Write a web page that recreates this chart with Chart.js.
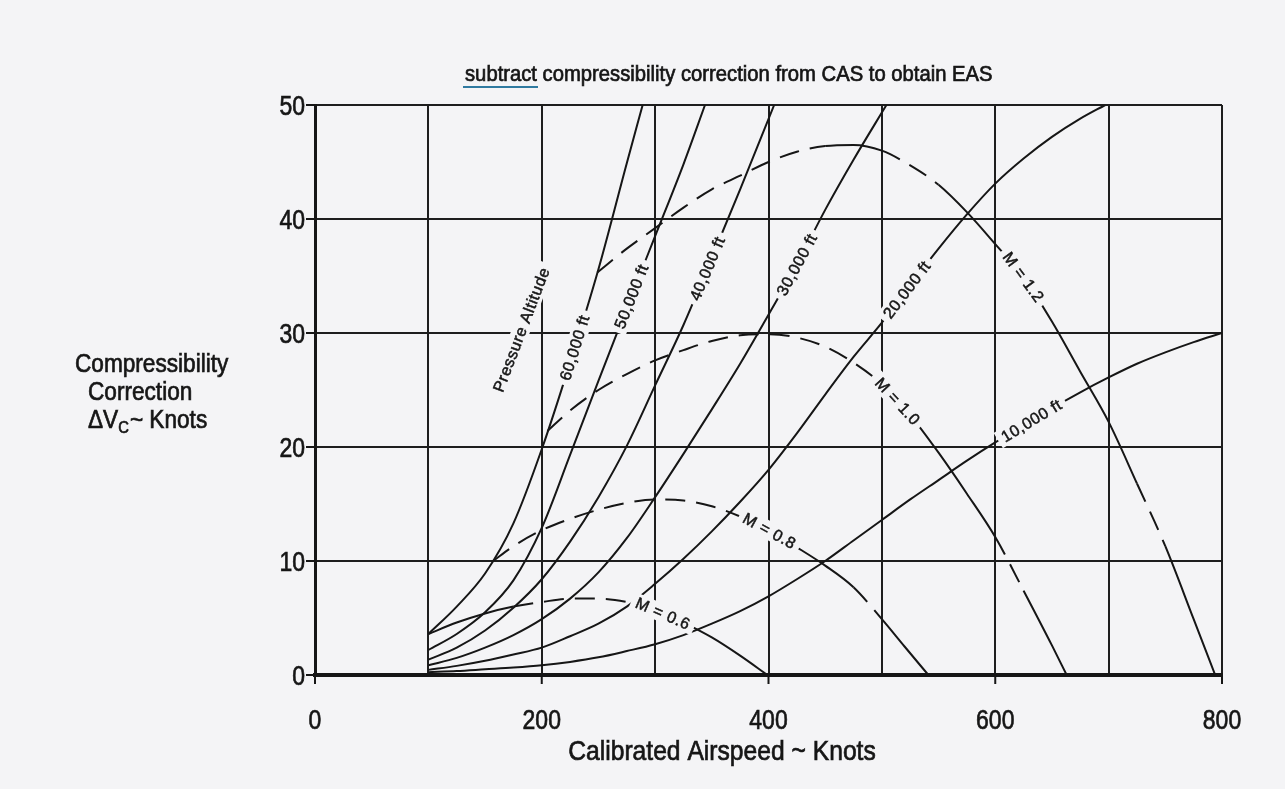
<!DOCTYPE html>
<html>
<head>
<meta charset="utf-8">
<title>Compressibility correction</title>
<script src="https://cdn.jsdelivr.net/npm/chart.js@4.4.1/dist/chart.umd.min.js"></script>
<style>
  html, body { margin: 0; padding: 0; background: #f4f4f6; overflow: hidden; }
  canvas { display: block; }
</style>
</head>
<body>
<canvas id="chart" width="1285" height="789"></canvas>
<script>
// calibrated airspeed (knots) and compressibility correction (knots)
var alt60kSpeed = [100, 125, 150, 175, 200, 225, 250, 275, 289];
var alt60kCorr = [3.6, 6.0, 8.9, 13.3, 19.8, 27.4, 35.6, 44.9, 50];

var alt50kSpeed = [100, 125, 150, 175, 200, 225, 250, 275, 300, 325, 344];
var alt50kCorr = [2.2, 3.6, 5.5, 8.3, 12.9, 19.3, 25.8, 32.2, 38.5, 44.8, 50];

var alt40kSpeed = [100, 125, 150, 175, 200, 225, 250, 275, 300, 325, 350, 375, 405];
var alt40kCorr = [1.35, 2.4, 3.9, 5.9, 8.4, 11.7, 15.6, 20.1, 25.4, 30.7, 36.6, 42.6, 50];

var alt30kSpeed = [100, 125, 150, 175, 200, 225, 250, 275, 300, 325, 350, 375, 400, 425, 450, 475, 504];
var alt30kCorr = [0.85, 1.5, 2.4, 3.5, 4.9, 6.7, 9.0, 12.0, 15.6, 19.4, 23.3, 27.3, 31.6, 36.0, 40.8, 45.2, 50];

var alt20kSpeed = [100, 125, 150, 175, 200, 225, 250, 275, 300, 325, 350, 375, 400, 425, 450, 475, 500, 525, 550, 575, 600, 625, 650, 675, 697];
var alt20kCorr = [0.45, 0.8, 1.25, 1.8, 2.4, 3.4, 4.5, 6.0, 8.0, 10.2, 12.6, 15.2, 18.0, 21.2, 24.6, 27.9, 30.9, 34.2, 37.4, 40.4, 43.1, 45.3, 47.2, 48.8, 50];

var alt10kSpeed = [100, 125, 150, 175, 200, 225, 250, 275, 300, 325, 350, 375, 400, 425, 450, 475, 500, 525, 550, 575, 600, 625, 650, 675, 700, 725, 750, 775, 800];
var alt10kCorr = [0.25, 0.35, 0.5, 0.65, 0.85, 1.15, 1.55, 2.1, 2.7, 3.5, 4.5, 5.6, 6.9, 8.4, 10.0, 11.8, 13.6, 15.4, 17.1, 18.8, 20.4, 21.9, 23.4, 24.8, 26.1, 27.3, 28.3, 29.2, 30.0];

var mach06Speed = [100, 125, 150, 175, 200, 225, 250, 275, 300, 325, 350, 375, 399];
var mach06Corr = [3.6, 4.6, 5.4, 6.0, 6.4, 6.7, 6.7, 6.4, 5.7, 4.6, 3.3, 1.7, 0];

var mach08Speed = [157, 175, 200, 225, 250, 275, 300, 325, 350, 375, 400, 425, 450, 475, 500, 520, 541];
var mach08Corr = [10, 11.3, 12.7, 13.7, 14.5, 15.1, 15.4, 15.3, 14.8, 13.9, 12.7, 11.2, 9.6, 7.7, 4.9, 2.5, 0];

var mach10Speed = [205, 225, 250, 275, 300, 325, 350, 375, 400, 425, 450, 475, 500, 525, 550, 575, 600, 625, 650, 663];
var mach10Corr = [21.4, 23.2, 25.0, 26.4, 27.6, 28.5, 29.3, 29.8, 29.9, 29.6, 28.8, 27.4, 25.5, 22.8, 19.5, 15.9, 12.1, 7.4, 2.6, 0];

var mach12Speed = [249, 275, 300, 325, 350, 375, 400, 425, 450, 475, 500, 525, 550, 575, 600, 625, 650, 675, 700, 725, 750, 775, 794];
var mach12Corr = [35.3, 37.4, 39.2, 41.0, 42.6, 43.8, 45.0, 45.9, 46.4, 46.5, 46.0, 44.7, 43.0, 40.6, 37.8, 34.9, 31.0, 26.6, 22.2, 16.8, 11.3, 4.9, 0];

var xTickLabels = [0, 200, 400, 600, 800];
var yTickLabels = [0, 10, 20, 30, 40, 50];

var PAPER = '#f4f4f6';
var INK = '#161616';
var FONT = '"Liberation Sans", Arial, sans-serif';

// curves: speed/correction arrays, dashed speed ranges, label text and where it sits
var curves = [
  { speed: alt60kSpeed, corr: alt60kCorr, dashed: [], label: '60,000 ft', at: 229 },
  { speed: alt50kSpeed, corr: alt50kCorr, dashed: [], label: '50,000 ft', at: 279 },
  { speed: alt40kSpeed, corr: alt40kCorr, dashed: [], label: '40,000 ft', at: 346 },
  { speed: alt30kSpeed, corr: alt30kCorr, dashed: [], label: '30,000 ft', at: 425 },
  { speed: alt20kSpeed, corr: alt20kCorr, dashed: [], label: '20,000 ft', at: 522 },
  { speed: alt10kSpeed, corr: alt10kCorr, dashed: [], label: '10,000 ft', at: 632 },
  { speed: mach06Speed, corr: mach06Corr, dashed: [[175, 290]], label: 'M = 0.6', at: 307 },
  { speed: mach08Speed, corr: mach08Corr, dashed: [[157, 370], [485, 503]], label: 'M = 0.8', at: 401 },
  { speed: mach10Speed, corr: mach10Corr, dashed: [[205, 495], [608, 624]], label: 'M = 1.0', at: 514 },
  { speed: mach12Speed, corr: mach12Corr, dashed: [[249, 455], [505, 542], [735, 757]], label: 'M = 1.2', at: 625 }
];

function toPoints(xs, ys) {
  var pts = [];
  for (var i = 0; i < xs.length; i++) {
    pts.push({ x: xs[i], y: ys[i] });
  }
  return pts;
}

function dashFor(ranges) {
  return function (ctx) {
    var mid = (ctx.p0.parsed.x + ctx.p1.parsed.x) / 2;
    for (var i = 0; i < ranges.length; i++) {
      if (mid >= ranges[i][0] && mid <= ranges[i][1]) return [20, 11];
    }
    return undefined;
  };
}

function interp(xs, ys, x) {
  for (var i = 1; i < xs.length; i++) {
    if (x <= xs[i]) {
      var t = (x - xs[i - 1]) / (xs[i] - xs[i - 1]);
      return ys[i - 1] + t * (ys[i] - ys[i - 1]);
    }
  }
  return ys[ys.length - 1];
}

// condensed, slightly heavy text like the printed typeface
function drawText(ctx, str, x, y, size, squeeze, align) {
  ctx.save();
  ctx.translate(x, y);
  ctx.scale(squeeze, 1);
  ctx.font = size + 'px ' + FONT;
  ctx.fillStyle = INK;
  ctx.strokeStyle = INK;
  ctx.lineWidth = 0.7;
  ctx.textAlign = align;
  ctx.textBaseline = 'alphabetic';
  ctx.fillText(str, 0, 0);
  ctx.strokeText(str, 0, 0);
  var w = ctx.measureText(str).width * squeeze;
  ctx.restore();
  return w;
}

function drawTag(ctx, str, x, y, angle) {
  ctx.save();
  ctx.translate(x, y);
  ctx.rotate(angle);
  ctx.font = '16px ' + FONT;
  ctx.letterSpacing = '0.6px';
  var w = ctx.measureText(str).width;
  ctx.fillStyle = PAPER;
  ctx.fillRect(-w / 2 - 5, -9, w + 10, 18);
  ctx.fillStyle = INK;
  ctx.strokeStyle = INK;
  ctx.lineWidth = 0.5;
  ctx.textAlign = 'center';
  ctx.textBaseline = 'middle';
  ctx.fillText(str, 0, 1);
  ctx.strokeText(str, 0, 1);
  ctx.restore();
}

var paperPlugin = {
  id: 'paper',
  beforeDraw: function (chart) {
    var ctx = chart.ctx;
    ctx.save();
    ctx.fillStyle = PAPER;
    ctx.fillRect(0, 0, chart.width, chart.height);
    ctx.restore();
  },
  afterDatasetsDraw: function (chart) {
    var ctx = chart.ctx;
    var xs = chart.scales.x;
    var ys = chart.scales.y;

    // curve labels, set along each curve
    for (var i = 0; i < curves.length; i++) {
      var c = curves[i];
      var x0 = xs.getPixelForValue(c.at - 8);
      var y0 = ys.getPixelForValue(interp(c.speed, c.corr, c.at - 8));
      var x1 = xs.getPixelForValue(c.at + 8);
      var y1 = ys.getPixelForValue(interp(c.speed, c.corr, c.at + 8));
      var px = xs.getPixelForValue(c.at);
      var py = ys.getPixelForValue(interp(c.speed, c.corr, c.at));
      drawTag(ctx, c.label, px, py, Math.atan2(y1 - y0, x1 - x0));
    }

    drawTag(ctx, 'Pressure Altitude', xs.getPixelForValue(182), ys.getPixelForValue(30.3), -69 * Math.PI / 180);
  },
  afterDraw: function (chart) {
    var ctx = chart.ctx;
    var xs = chart.scales.x;
    var ys = chart.scales.y;
    var area = chart.chartArea;
    var i, p;

    ctx.save();
    ctx.strokeStyle = INK;
    ctx.lineWidth = 2;
    for (i = 0; i < yTickLabels.length; i++) {
      p = ys.getPixelForValue(yTickLabels[i]);
      ctx.beginPath();
      ctx.moveTo(area.left - 9, p);
      ctx.lineTo(area.left, p);
      ctx.stroke();
      drawText(ctx, String(yTickLabels[i]), area.left - 10, p + 10, 28, 0.82, 'right');
    }
    for (i = 0; i < xTickLabels.length; i++) {
      p = xs.getPixelForValue(xTickLabels[i]);
      ctx.beginPath();
      ctx.moveTo(p, area.bottom);
      ctx.lineTo(p, area.bottom + 9);
      ctx.stroke();
      drawText(ctx, String(xTickLabels[i]), p, 729, 28, 0.82, 'center');
    }
    ctx.restore();

    // axis titles
    drawText(ctx, 'Calibrated Airspeed ~ Knots', 722, 760, 28, 0.88, 'center');
    drawText(ctx, 'Compressibility', 75, 372, 26, 0.87, 'left');
    drawText(ctx, 'Correction', 88, 400, 26, 0.87, 'left');
    var w = drawText(ctx, '\u0394V', 88, 428, 26, 0.87, 'left');
    w += drawText(ctx, 'C', 88 + w, 433, 17, 0.87, 'left');
    drawText(ctx, '~ Knots', 88 + w + 1, 428, 26, 0.87, 'left');

    // heading with the underlined word
    var sw = drawText(ctx, 'subtract', 465, 81, 22, 0.92, 'left');
    drawText(ctx, ' compressibility correction from CAS to obtain EAS', 465 + sw, 81, 22, 0.92, 'left');
    ctx.save();
    ctx.strokeStyle = '#2f7aa0';
    ctx.lineWidth = 2;
    ctx.beginPath();
    ctx.moveTo(463, 87);
    ctx.lineTo(465 + sw + 1, 87);
    ctx.stroke();
    ctx.restore();
  }
};

var datasets = [];
for (var i = 0; i < curves.length; i++) {
  datasets.push({
    label: curves[i].label,
    data: toPoints(curves[i].speed, curves[i].corr),
    borderColor: INK,
    borderWidth: 2,
    pointRadius: 0,
    fill: false,
    cubicInterpolationMode: 'monotone',
    segment: { borderDash: dashFor(curves[i].dashed) }
  });
}

var gridStyle = { color: '#1e1e1e', lineWidth: 2, drawTicks: false };

new Chart(document.getElementById('chart').getContext('2d'), {
  type: 'line',
  data: { datasets: datasets },
  options: {
    responsive: false,
    animation: false,
    devicePixelRatio: 1,
    layout: { padding: { top: 105, right: 63, left: 0, bottom: 0 } },
    plugins: {
      legend: { display: false },
      tooltip: { enabled: false }
    },
    scales: {
      x: {
        type: 'linear',
        min: 0,
        max: 800,
        ticks: { stepSize: 100, display: false },
        grid: gridStyle,
        border: { color: INK, width: 4 },
        afterFit: function (scale) { scale.height = 114; }
      },
      y: {
        type: 'linear',
        min: 0,
        max: 50,
        ticks: { stepSize: 10, display: false },
        grid: gridStyle,
        border: { color: INK, width: 3 },
        afterFit: function (scale) { scale.width = 315; }
      }
    }
  },
  plugins: [paperPlugin]
});
</script>
</body>
</html>
